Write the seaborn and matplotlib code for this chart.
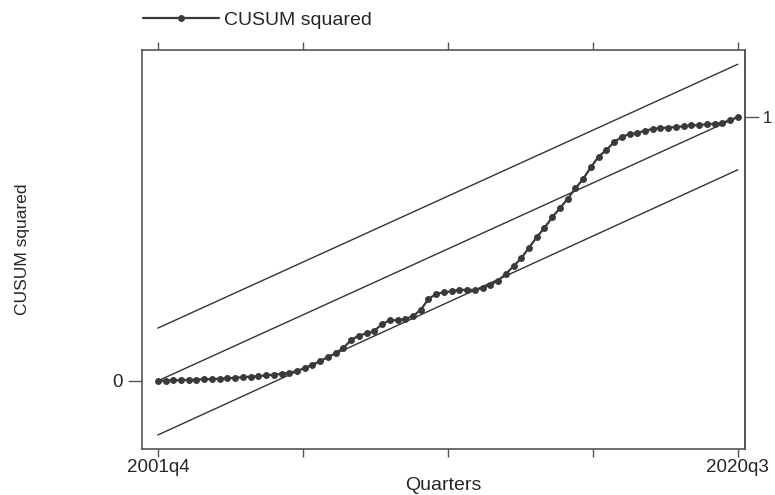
import numpy as np
import pandas as pd
import matplotlib
matplotlib.use("Agg")
import matplotlib.pyplot as plt
import seaborn as sns

sns.set_style("ticks")
plt.rcParams["font.family"] = ["Liberation Sans", "DejaVu Sans"]

# quarter index 0 = 2001q4 ... 75 = 2020q3
cusum_sq = [
    0.000, 0.001, 0.002, 0.003, 0.004, 0.005, 0.006, 0.007, 0.008, 0.010,
    0.012, 0.014, 0.016, 0.018, 0.021, 0.024, 0.027, 0.030, 0.038, 0.048,
    0.060, 0.075, 0.090, 0.105, 0.125, 0.155, 0.172, 0.180, 0.190, 0.215,
    0.230, 0.230, 0.235, 0.245, 0.270, 0.310, 0.330, 0.335, 0.340, 0.345,
    0.345, 0.345, 0.352, 0.365, 0.380, 0.405, 0.435, 0.465, 0.505, 0.545,
    0.580, 0.620, 0.655, 0.690, 0.730, 0.765, 0.810, 0.850, 0.875, 0.905,
    0.925, 0.935, 0.940, 0.948, 0.955, 0.958, 0.960, 0.962, 0.965, 0.968,
    0.970, 0.972, 0.975, 0.978, 0.988, 1.000,
]
quarters = list(range(len(cusum_sq)))

# reference lines: value at first and last quarter
upper_band = [0.20, 1.20]
expected_line = [0.0, 1.0]
lower_band = [-0.205, 0.80]

x_ticks = [0, 18.75, 37.5, 56.25, 75]
x_labels = ["2001q4", "", "", "", "2020q3"]

df = pd.DataFrame({"quarter": quarters, "cusum": cusum_sq})
ends = [quarters[0], quarters[-1]]

fig = plt.figure(figsize=(7.75, 4.95), dpi=100)
ax = fig.add_axes([0.183, 0.093, 0.778, 0.806])

line_col = "#333333"
for band in (upper_band, expected_line, lower_band):
    ax.plot(ends, band, color=line_col, lw=1.0)

sns.lineplot(data=df, x="quarter", y="cusum", ax=ax, color="#3a3a3a",
             lw=1.6, marker="o", markersize=4.2, markeredgecolor="#3a3a3a",
             label="CUSUM squared", legend=False)

ax.set_xlim(-2.07, 75.9)
ax.set_ylim(-0.258, 1.254)
ax.set_xticks(x_ticks)
ax.set_xticklabels(x_labels)
ax.set_yticks([0])
ax.set_yticklabels(["0"])
ax.tick_params(axis="x", top=True, direction="out", length=6, width=1,
               color="#555555", labelsize=13.5, pad=1)
ax.tick_params(axis="y", direction="out", length=10, width=1,
               color="#555555", labelsize=13.5)
ax.set_xlabel("Quarters", fontsize=14, labelpad=1)
ax.set_ylabel("CUSUM squared", fontsize=12.5)
ax.yaxis.set_label_coords(-0.185, 0.5)

sec = ax.secondary_yaxis("right")
sec.set_yticks([1])
sec.set_yticklabels(["1"])
sec.tick_params(direction="out", length=10, width=1, color="#555555",
                labelsize=12, pad=3)

for sp in list(ax.spines.values()) + list(sec.spines.values()):
    sp.set_color("#555555")
    sp.set_linewidth(1.2)

handles, labels = ax.get_legend_handles_labels()
fig.legend(handles, labels, loc="upper left", bbox_to_anchor=(0.162, 1.012),
           frameon=False, fontsize=14, handlelength=3.9, handletextpad=0.25)

fig.savefig("out.png", dpi=100)
